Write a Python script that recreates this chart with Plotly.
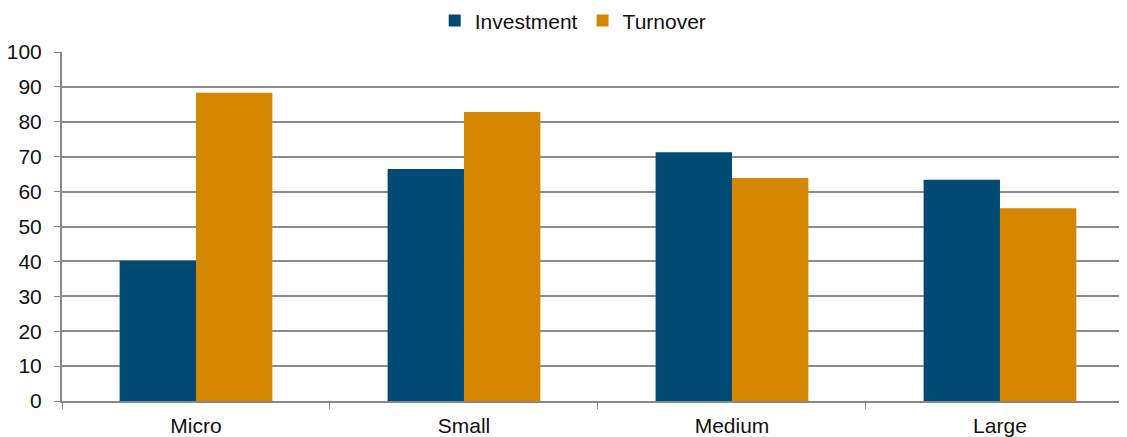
"""Investment vs turnover by firm size (Plotly)"""

import plotly.graph_objects as go

categories = ["Micro", "Small", "Medium", "Large"]
investment = [40.2, 66.5, 71.3, 63.4]
turnover = [88.3, 82.8, 63.9, 55.2]

COLORS = {"Investment": "#004A73", "Turnover": "#D58700"}
FONT = "Liberation Sans, Arial, sans-serif"

fig = go.Figure()
for name, values in [("Investment", investment), ("Turnover", turnover)]:
    fig.add_trace(go.Bar(
        name=name,
        x=categories,
        y=values,
        marker=dict(color=COLORS[name], line=dict(width=0)),
    ))

# page body adds an 8px offset, so the figure is 8px smaller than the window
fig.update_layout(
    barmode="group",
    bargap=0.43,
    bargroupgap=0,
    width=1119,
    height=429,
    margin=dict(t=44, b=36, l=54, r=0, autoexpand=False),
    paper_bgcolor="white",
    plot_bgcolor="white",
    font=dict(family=FONT, size=21, color="#111"),
    legend=dict(orientation="h", x=0.48, xanchor="center",
                yref="container", y=0.97, yanchor="middle",
                font=dict(size=21), itemwidth=30, traceorder="normal"),
    xaxis=dict(
        range=[-0.5, 3.474],
        tickson="boundaries",
        ticks="outside",
        ticklen=6,
        tickcolor="#888",
        showline=True,
        linecolor="#888",
        linewidth=2,
        showgrid=False,
        automargin=False,
        ticklabelstandoff=5,
        tickfont=dict(size=21),
    ),
    yaxis=dict(
        range=[0, 100],
        dtick=10,
        ticks="outside",
        ticklen=6,
        tickcolor="#888",
        showline=True,
        linecolor="#888",
        linewidth=2,
        gridcolor="#8c8c8c",
        gridwidth=2,
        zeroline=False,
        automargin=False,
        ticklabelstandoff=8,
        tickfont=dict(size=21),
    ),
    showlegend=True,
)

fig.write_html("out.html")
